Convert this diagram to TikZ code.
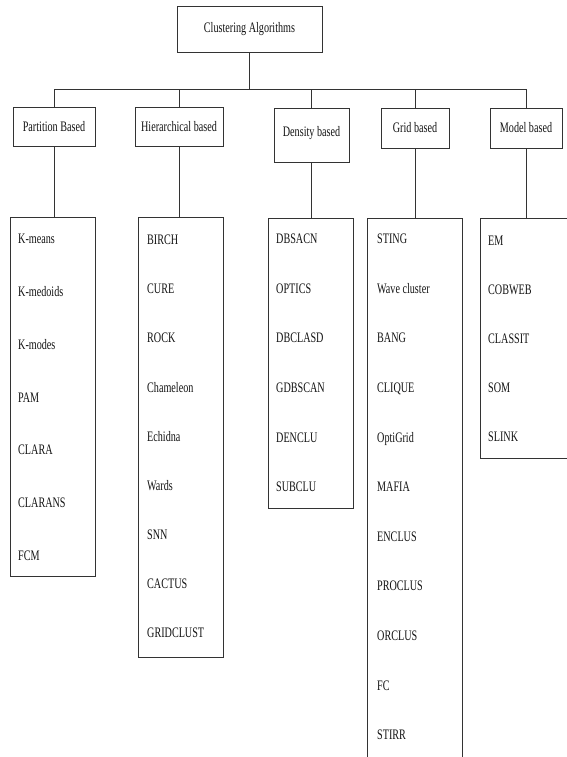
\documentclass[tikz,border=0pt]{standalone}
\usepackage{fontspec}
\setmainfont[FakeStretch=0.7]{Liberation Serif}
\begin{document}
\begin{tikzpicture}[x=1pt,y=-1pt,
  every node/.style={font=\fontsize{14.5}{16}\selectfont, text=black!92},
  box/.style={draw=black!80, line width=0.95pt, inner sep=0pt, fill=white},
  link/.style={draw=black!80, line width=0.9pt},
  item/.style={anchor=base west, inner sep=0pt}]
\useasboundingbox (0,0) rectangle (567,757);
\clip (0,0) rectangle (567,757);
% root
\node[box, minimum width=145pt, minimum height=46pt] (root) at (249.5,29) {Clustering Algorithms};
% categories
\node[box, minimum width=82pt, minimum height=39pt] (pb) at (54,126.5) {Partition Based};
\node[box, minimum width=88pt, minimum height=39pt] (hb) at (179,126.5) {Hierarchical based};
\node[box, minimum width=75pt, minimum height=54pt, text depth=8pt] (db) at (311.5,135) {Density based};
\node[box, minimum width=68pt, minimum height=40pt] (gb) at (415,128) {Grid based};
\node[box, minimum width=72pt, minimum height=40pt] (mb) at (526,128) {Model based};
\coordinate (bus) at (0,89);
% list boxes
\node[box, minimum width=85pt, minimum height=359pt] (pl) at (52.5,396.5) {};
\node[box, minimum width=85pt, minimum height=440pt] (hl) at (180.5,437) {};
\node[box, minimum width=85pt, minimum height=290pt] (dl) at (310.5,363) {};
\node[box, minimum width=95pt, minimum height=552pt] (gl) at (414.5,494) {};
\node[box, minimum width=97pt, minimum height=240pt] (ml) at (528.5,338) {};
% connectors
\draw[link] (root.south) -- (root.south |- bus);
\draw[link] (pb.north) -- (pb.north |- bus) -- (mb.north |- bus) -- (mb.north);
\draw[link] (hb.north) -- (hb.north |- bus);
\draw[link] (db.north) -- (db.north |- bus);
\draw[link] (gb.north) -- (gb.north |- bus);
\draw[link] (pb.south) -- (pb.south |- pl.north);
\draw[link] (hb.south) -- (hb.south |- hl.north);
\draw[link] (db.south) -- (db.south |- dl.north);
\draw[link] (gb.south) -- (gb.south |- gl.north);
\draw[link] (mb.south) -- (mb.south |- ml.north);
% items
\foreach \t [count=\i] in {K-means,K-medoids,K-modes,PAM,CLARA,CLARANS,FCM}
  \node[item, name=p\i] at (18,{243.7+52.8*(\i-1)}) {\t};
\foreach \t [count=\i] in {BIRCH,CURE,ROCK,Chameleon,Echidna,Wards,SNN,CACTUS,GRIDCLUST}
  \node[item, name=h\i] at (147,{244.7+49.1*(\i-1)}) {\t};
\foreach \t [count=\i] in {DBSACN,OPTICS,DBCLASD,GDBSCAN,DENCLU,SUBCLU}
  \node[item, name=d\i] at (276,{243.7+49.6*(\i-1)}) {\t};
\foreach \t [count=\i] in {STING,Wave cluster,BANG,CLIQUE,OptiGrid,MAFIA,ENCLUS,PROCLUS,ORCLUS,FC,STIRR}
  \node[item, name=g\i] at (377,{243.7+49.6*(\i-1)}) {\t};
\foreach \t [count=\i] in {EM,COBWEB,CLASSIT,SOM,SLINK}
  \node[item, name=m\i] at (488,{245.7+49*(\i-1)}) {\t};
\end{tikzpicture}
\end{document}
